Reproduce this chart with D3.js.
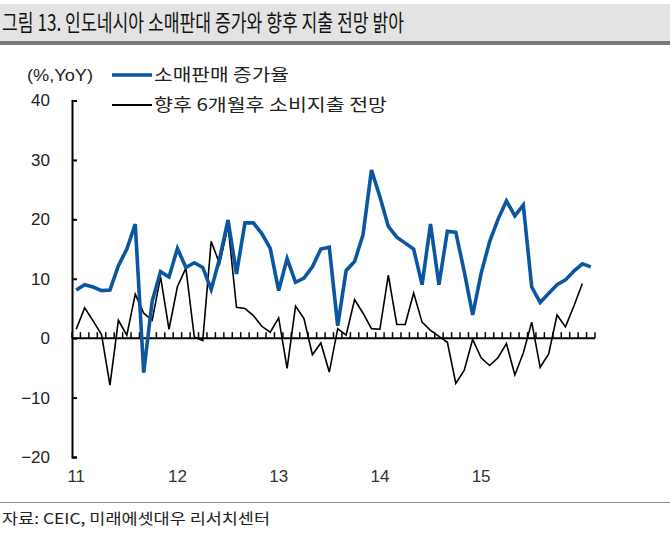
<!DOCTYPE html>
<html>
<head>
<meta charset="utf-8">
<script src="https://cdn.jsdelivr.net/npm/d3@7"></script>
<style>
  body { margin: 0; background: #fff; }
  svg { display: block; }
  .kr { font-family: "Noto Sans CJK KR", "Noto Sans", sans-serif; }
  .lat { font-family: "Liberation Sans", Arial, sans-serif; }
</style>
</head>
<body>
<div id="chart"></div>
<script>
// Indonesia retail sales growth vs. 6-month-ahead spending outlook, Jan 2011 ~ Feb 2016 (monthly)
const years = ["11", "12", "13", "14", "15", "16"];
const months = [];
years.forEach(y => { for (let m = 1; m <= 12; m++) months.push(y + "-" + String(m).padStart(2, "0")); });
months.length = 62; // data runs to Feb 2016

const retailSales = [
  8.1, 9.0, 8.6, 8.0, 8.1, 12.2, 15.0, 19.2, -5.8, 6.2, 11.2, 10.3,
  15.1, 11.9, 12.7, 11.9, 8.2, 13.4, 19.9, 10.8, 19.4, 19.4, 17.6, 15.1,
  8.0, 13.4, 9.4, 10.1, 12.0, 15.0, 15.3, 2.1, 11.4, 12.9, 17.4, 28.3,
  23.8, 18.8, 17.0, 16.0, 15.0, 9.0, 19.2, 9.0, 18.0, 17.8, 11.2, 3.9,
  10.9, 16.2, 20.0, 23.1, 20.6, 22.4, 8.6, 6.0, 7.5, 9.0, 9.8, 11.3,
  12.5, 12.0
];
const spendOutlook = [
  1.5, 5.1, 2.9, 0.6, -7.9, 3.0, 0.5, 7.4, 4.2, 3.0, 10.3, 1.5,
  8.7, 11.8, 0.2, -0.4, 16.3, 12.5, 18.9, 5.2, 5.0, 3.8, 2.0, 1.0,
  3.4, -5.1, 5.4, 3.3, -2.8, -0.8, -5.7, 1.6, 0.5, 6.5, 4.2, 1.6,
  1.5, 10.6, 2.3, 2.3, 7.6, 2.7, 1.3, 0.3, -0.7, -7.6, -5.4, -0.2,
  -3.3, -4.6, -3.3, -0.9, -6.2, -2.5, 2.7, -4.9, -2.7, 3.9, 1.9, 5.4,
  9.2
];
const yTicks = [-20, -10, 0, 10, 20, 30, 40];
const yearTicks = ["11-01", "12-01", "13-01", "14-01", "15-01"];

const W = 670, H = 534;
const svg = d3.select("#chart").append("svg").attr("width", W).attr("height", H);

// title band
svg.append("rect").attr("x", 0).attr("y", 4).attr("width", W).attr("height", 38).attr("fill", "#e3e3e3");
svg.append("rect").attr("x", 0).attr("y", 41).attr("width", W).attr("height", 4).attr("fill", "#7a7a7a");
svg.append("text").attr("class", "kr")
  .attr("x", 2).attr("y", 31)
  .attr("font-size", 23).attr("fill", "#111")
  .attr("textLength", 402).attr("lengthAdjust", "spacingAndGlyphs")
  .text("그림 13. 인도네시아 소매판대 증가와 향후 지출 전망 밝아");

const x = d3.scaleBand().domain(months).range([72, 595]);
const y = d3.scaleLinear().domain([-20, 40]).range([457, 100.5]);
const cx = d => x(d) + x.bandwidth() / 2;

// y axis, ticks pointing inward
const yAxis = svg.append("g")
  .attr("transform", "translate(72,0)")
  .call(d3.axisLeft(y).tickValues(yTicks).tickSize(-5).tickSizeOuter(-5).tickPadding(22));
yAxis.select(".domain").attr("stroke", "#000").attr("stroke-width", 2);
yAxis.selectAll(".tick line").attr("stroke", "#000").attr("stroke-width", 2);
yAxis.selectAll(".tick text").attr("class", "lat").attr("font-size", 17).attr("fill", "#222")
  .text(d => d < 0 ? "\u2212" + Math.abs(d) : d);

// zero line with monthly ticks
const y0 = y(0);
svg.append("line").attr("x1", 72).attr("x2", 595).attr("y1", y0).attr("y2", y0)
  .attr("stroke", "#000").attr("stroke-width", 2);
svg.append("g").selectAll("line")
  .data(months.concat(["end"]))
  .join("line")
  .attr("x1", d => d === "end" ? x.range()[1] : x(d))
  .attr("x2", d => d === "end" ? x.range()[1] : x(d))
  .attr("y1", y0).attr("y2", y0 - 6)
  .attr("stroke", "#000").attr("stroke-width", 1.5);

// year labels
const xAxis = svg.append("g")
  .attr("transform", "translate(0,466)")
  .call(d3.axisBottom(x).tickValues(yearTicks).tickSize(0).tickPadding(4).tickFormat(d => d.slice(0, 2)));
xAxis.select(".domain").remove();
xAxis.selectAll(".tick text").attr("class", "lat").attr("font-size", 17).attr("fill", "#333");

// lines
const line = d3.line().x((d, i) => cx(months[i])).y(d => y(d));
svg.append("path").datum(spendOutlook)
  .attr("fill", "none").attr("stroke", "#000").attr("stroke-width", 1.6)
  .attr("stroke-linejoin", "miter").attr("d", line);
svg.append("path").datum(retailSales)
  .attr("fill", "none").attr("stroke", "#0a56a0").attr("stroke-width", 3.6)
  .attr("stroke-linejoin", "miter").attr("d", line);

// unit + legend
svg.append("text").attr("class", "lat").attr("x", 27).attr("y", 81)
  .attr("font-size", 17).attr("fill", "#222")
  .attr("textLength", 66).attr("lengthAdjust", "spacingAndGlyphs").text("(%,YoY)");
const legend = [
  { label: "소매판매 증가율", color: "#0a56a0", w: 3.6, y: 75, len: 135 },
  { label: "향후 6개월후 소비지출 전망", color: "#000", w: 1.8, y: 105, len: 233 }
];
const lg = svg.append("g").selectAll("g").data(legend).join("g");
lg.append("line").attr("x1", 112).attr("x2", 152).attr("y1", d => d.y).attr("y2", d => d.y)
  .attr("stroke", d => d.color).attr("stroke-width", d => d.w);
lg.append("text").attr("class", "kr").attr("x", 154).attr("y", d => d.y + 6)
  .attr("font-size", 17).attr("fill", "#222")
  .attr("textLength", d => d.len).attr("lengthAdjust", "spacingAndGlyphs")
  .text(d => d.label);

// source
svg.append("line").attr("x1", 0).attr("x2", W).attr("y1", 502.5).attr("y2", 502.5)
  .attr("stroke", "#8a8a8a").attr("stroke-width", 1.2);
svg.append("text").attr("class", "kr").attr("x", 2).attr("y", 524)
  .attr("font-size", 15).attr("fill", "#222")
  .attr("textLength", 268).attr("lengthAdjust", "spacingAndGlyphs")
  .text("자료: CEIC, 미래에셋대우 리서치센터");
</script>
</body>
</html>
